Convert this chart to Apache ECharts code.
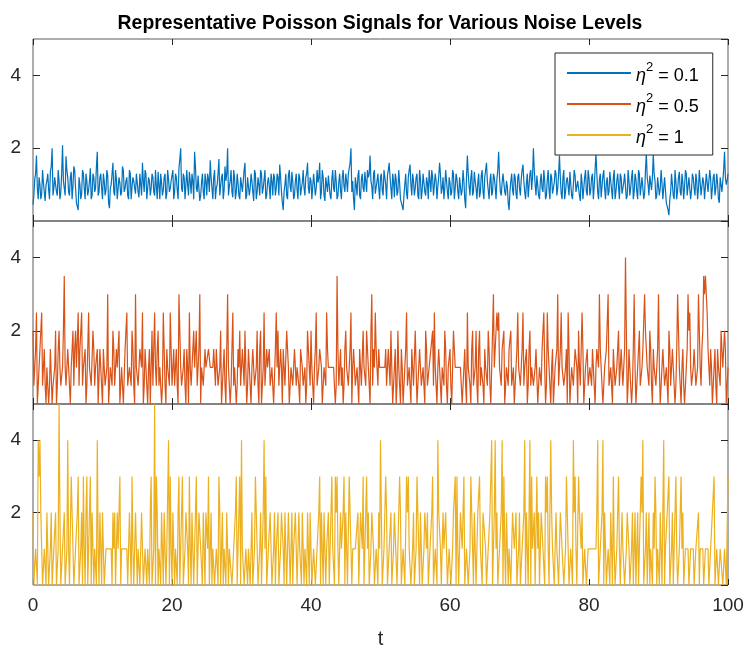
<!DOCTYPE html>
<html>
<head>
<meta charset="utf-8">
<script src="https://cdn.jsdelivr.net/npm/echarts@6/dist/echarts.min.js"></script>
<style>
html,body{margin:0;padding:0;background:#fff;}
#chart{width:747px;height:650px;}
</style>
</head>
<body>
<div id="chart"></div>
<script>
// sampling: "A" readings at t = 0, 0.25, ..., 100 ; "B" readings at t = 0.125, 0.375, ..., 99.875
const dt = 0.125;
const noiseLabels = ['0.1', '0.5', '1'];
const xTicks = [0, 20, 40, 60, 80, 100];
const yTicks = [2, 4];

// eta^2 = 0.1
const sig01A = [
0.45,1.15,1.8,0.6,1.0,0.75,1.05,0.55,1.1,0.85,1.35,2.0,0.9,1.25,0.7,1.1,0.8,2.08,0.9,1.78,
1.2,0.7,1.35,0.95,1.4,0.5,0.3,1.0,0.75,1.3,0.6,1.1,0.85,1.45,0.7,1.2,0.9,1.9,0.8,1.3,
0.6,1.1,0.85,1.25,0.35,1.0,1.6,0.7,1.15,0.55,1.05,0.8,1.4,0.9,1.2,0.6,1.3,0.95,1.1,0.75,
1.25,0.65,1.0,1.6,0.8,1.3,0.55,1.1,0.9,1.2,0.7,0.95,1.35,0.6,1.05,0.85,1.3,0.75,1.15,0.9,
1.1,0.6,1.3,0.85,1.45,2.0,0.8,1.2,0.65,1.0,1.35,0.75,1.1,1.9,0.9,1.25,0.55,1.05,0.8,1.3,
0.7,1.15,1.67,0.9,1.2,0.6,1.0,1.7,0.75,1.3,0.85,1.1,2.0,0.95,1.4,0.65,1.2,0.8,1.05,0.6,
1.15,0.85,1.6,0.7,1.25,0.9,1.1,0.55,1.3,0.8,1.0,1.4,0.75,1.15,0.6,1.05,0.95,1.3,0.7,1.2,
0.9,1.2,1.55,0.8,0.3,1.0,0.7,1.25,0.95,1.35,0.6,1.1,0.85,1.3,0.7,1.05,0.9,1.2,1.6,0.75,
1.1,0.65,1.3,0.9,1.05,1.6,0.8,1.2,0.55,1.0,1.25,0.7,1.15,0.9,1.4,0.6,1.05,0.85,1.2,0.95,
1.3,0.8,1.45,2.0,1.1,0.3,1.0,1.25,0.7,1.15,0.9,1.35,0.8,1.2,1.8,0.95,1.3,0.75,1.1,0.9,
1.2,0.85,1.4,1.0,1.25,1.6,0.9,1.3,0.65,1.15,0.8,1.05,0.55,0.3,1.0,0.75,1.2,1.55,0.7,1.1,
0.9,1.3,0.6,1.15,0.85,1.25,0.7,1.05,1.4,0.8,1.2,0.65,1.1,0.95,1.6,0.75,1.2,0.9,1.35,0.6,
1.05,0.8,1.3,0.9,1.15,0.6,1.25,0.85,1.1,0.35,1.8,0.95,1.2,0.7,1.35,0.9,1.05,0.65,1.25,0.8,
1.2,1.6,0.85,1.1,0.7,1.3,0.95,1.15,1.9,0.8,1.05,1.25,0.7,0.95,0.3,1.1,0.85,1.3,0.75,1.2,
0.9,1.15,1.55,0.8,1.05,0.65,1.3,0.85,2.0,1.0,1.25,0.7,1.1,0.9,1.4,0.6,1.15,0.85,1.3,0.75,
1.05,1.3,0.9,1.8,0.75,1.2,0.6,1.1,0.95,1.35,0.7,1.0,1.25,0.8,1.15,0.55,1.05,0.9,1.4,0.7,
1.2,0.85,1.3,0.95,1.86,0.8,1.15,0.65,1.25,0.9,1.05,0.7,1.35,0.85,1.2,0.6,1.1,0.95,1.3,0.75,
1.05,1.25,0.7,1.1,0.9,1.4,0.8,1.15,0.6,1.3,0.95,1.2,0.75,1.86,1.0,1.25,0.85,1.83,1.1,0.7,
1.2,0.9,1.05,0.55,1.15,0.4,0.16,0.8,1.25,0.6,1.1,0.85,1.35,0.7,1.05,0.95,1.3,0.65,1.15,0.85,
1.2,0.7,1.1,0.9,1.35,0.75,1.05,0.55,1.25,0.85,1.15,0.65,1.3,0.9,1.05,0.5,1.2,0.8,1.9,1.0,1.3
];
const sig01B = [
0.7,1.3,0.9,1.2,0.6,1.4,0.8,1.0,1.3,0.6,1.5,0.7,1.2,0.8,1.4,0.6,1.3,1.1,0.7,1.4,
0.8,1.2,0.6,1.5,0.9,0.5,1.2,0.6,1.4,0.9,1.3,0.7,1.1,0.6,1.3,0.8,1.5,0.7,1.2,0.9,
1.3,0.7,1.4,0.5,0.9,1.3,0.8,1.4,0.6,1.2,0.7,1.5,0.8,1.1,0.7,1.4,0.6,1.2,0.9,1.3,
0.8,1.3,0.7,1.1,1.4,0.6,1.2,0.7,1.3,0.8,1.4,0.6,1.0,1.3,0.7,1.2,0.6,1.4,0.8,1.1,
1.4,0.8,1.2,0.6,1.7,0.9,1.3,0.6,1.4,0.7,1.1,1.3,0.6,1.5,0.8,1.2,0.7,1.3,0.6,1.1,
1.3,0.8,1.2,0.6,1.4,0.9,1.3,0.7,1.2,0.6,1.5,1.3,0.7,1.1,0.8,1.4,0.6,1.3,0.7,1.2,
0.8,1.4,0.6,1.2,0.7,1.3,0.8,1.4,0.6,1.2,0.7,1.3,0.9,1.4,0.7,1.2,0.6,1.1,1.3,0.7,
1.3,0.7,1.2,0.5,0.8,1.3,0.6,1.4,0.8,1.1,0.7,1.3,0.6,1.2,0.9,1.4,0.7,1.3,0.9,1.2,
0.6,1.3,0.7,1.4,1.2,0.6,1.4,0.7,1.2,0.8,1.3,0.6,1.4,0.8,1.1,0.7,1.3,0.6,1.4,0.8,
1.1,1.3,1.6,0.8,0.6,1.2,0.7,1.4,0.6,1.3,0.8,1.1,1.4,1.3,1.1,0.6,1.4,0.8,1.3,0.6,
1.3,0.7,1.2,0.6,1.4,1.2,0.6,1.1,1.3,0.7,1.4,0.6,0.4,0.7,1.3,0.6,1.4,1.0,1.3,0.7,
1.2,0.7,1.4,0.6,1.3,0.8,1.2,0.6,1.1,1.4,0.7,1.3,0.6,1.2,1.3,0.9,0.6,1.4,0.8,1.2,
0.7,1.4,0.6,1.3,0.8,1.2,0.7,1.4,0.6,1.2,1.3,0.7,1.4,0.8,1.1,0.6,1.3,0.8,1.4,0.6,
1.4,1.1,0.6,1.3,0.8,1.2,0.6,1.4,1.2,0.7,1.3,0.8,1.1,0.5,0.8,1.3,0.7,1.2,0.6,1.3,
0.7,1.4,1.1,0.6,1.3,0.7,1.4,1.2,1.4,0.7,1.2,0.6,1.3,0.8,1.1,0.7,1.4,0.6,1.2,0.8,
1.4,0.7,1.3,1.2,0.6,1.4,0.8,1.2,0.7,1.3,0.6,1.4,0.8,1.1,0.7,1.3,0.6,1.2,0.8,1.4,
0.7,1.2,0.6,1.4,1.3,0.6,1.3,0.7,1.4,0.6,1.2,0.8,1.1,0.6,1.4,0.8,1.3,0.6,1.2,0.9,
1.3,0.6,1.4,0.7,1.2,0.6,1.3,0.8,1.4,0.7,1.2,0.6,1.4,1.2,0.7,1.3,1.2,1.3,0.6,1.2,
0.7,1.4,0.6,1.2,0.5,0.3,0.6,1.3,0.7,1.4,0.6,1.2,0.8,1.3,0.6,1.4,0.7,1.2,0.6,1.3,
0.9,1.3,0.6,1.4,0.7,1.2,0.6,1.3,0.8,1.4,0.6,1.2,0.7,1.3,0.6,1.2,0.8,1.4,1.2,1.1
];

// eta^2 = 0.5 (steps of 0.5)
const sig05A = [
2,1,2.5,0.5,1.5,2.5,1,0.5,1,0,1.5,0,0.5,2,0.5,2,0.5,1,3.5,0.5,
1.5,0.5,1,2,1.5,1,2.5,1.5,2.5,1,1.5,0.5,2.5,1,0.5,1.5,1,1.5,0,1,
0,1.5,0.5,3,0.5,1,2,0.5,1.5,1,0,1,0,1.5,2.5,0.5,1,2,0.5,3,
1,0.5,1.5,2.5,0.5,1,0,1.5,1,0.5,2.5,0.5,2,1,0,2.5,0.5,1.5,1,2.5,
0.5,1.5,1,0.5,3,1,0.5,1.5,0,1,2.5,0.5,1.5,1,2,0.5,3,1,0.5,1.5,
1,1.5,1,1,1.5,0.5,1,0.5,2,0.5,1.5,0,3,1,0.5,2.5,1,0,1.5,2,
0.5,1,2,0,1.5,0.5,1,1.5,0.5,2,0,2,0,2.5,0.5,1,1.5,0.5,1,0,
2.5,2,0.5,1,1.5,0.5,2,1,0,1,0.5,1.5,1,0.5,1.5,1,0.5,0,2,1,
2,0.5,1,2.5,0.5,1.5,1,0.5,1,2.5,1,1,1,1,0,3.5,0.5,1.5,1,0.5,
2,1,0.5,2.5,1,1.5,0.5,1,1.5,0.5,2,1,2,1.5,0,3,1.5,2.5,1,1.5,
1,1,1,1.5,0.5,1,2,0,1,0,2,0.5,1.5,0,1,2.5,0.5,1,1.5,0.5,
2,0,1,1.5,0.5,1,2,0.5,1,1.5,2,2.5,0.5,1,1.5,0,1,2,0.5,1,
1.5,0,2,1,1,1,1,0,1,0.5,2.5,1,0,2,0.5,2,0,2,1,0.5,
1.5,1,2,0.5,1,3,1.5,2.5,2.5,1,1.5,2,0.5,1,1.5,2,0.5,0,1,2.5,
1,0.5,2.5,1,1.5,0.5,2,1,0.5,1,1.5,0.5,1,1.5,2.5,0,2.5,1,0,1.5,
0,1,3,0.5,2.5,1,0.5,1.5,2.5,0,1,0.5,1.5,1,2,0.5,2.5,0,1,1.5,
0.5,1,1.5,0.5,1,1.5,3,1,0,1,1.5,3,0.5,1,1.5,0.5,1,2,0.5,1.5,
1,4,0,1.5,1,0.5,3,0,1,2,0.5,1.5,3,2,1,2,0.5,1.5,1,0.5,
3,0,1,1.5,0.5,1,2,0.5,1.5,1,0.5,3,1,0,1.5,0,1,3,2.5,0.5,
1,1.5,0.5,3,1,1.5,3.5,3.5,2.5,1,1.5,0,1,0.5,1.5,1,2,1,2,0,1
];
const sig05B = [
0.5,1.5,0,1,2,0.5,1.5,0,1,0.5,1.5,0.5,1,0,1.5,1,0.5,2,1,0.5,
1,0,1.5,0.5,2,1,0.5,1.5,0.5,1,0,1.5,1,0.5,2,0.5,1,0,1.5,0.5,
1.5,0.5,1,0,1,0.5,1.5,0.5,1,2,0.5,1,0,1.5,0.5,1,0.5,1.5,0,1,
0.5,1.5,1,0,1.5,0.5,1,0,2,0.5,1,1.5,0.5,1,0.5,1.5,0,1,0.5,1.5,
1,0.5,1.5,0,2,0.5,1,0.5,1.5,0,1,0.5,2,1,0.5,1.5,0,1,0.5,1,
1,1.5,1,1,1,1.5,0.5,1,0,1,0.5,1.5,1,0,1.5,0.5,1,0.5,1,0.5,
1.5,0.5,1,0.5,1,0,1.5,0.5,1,0.5,1.5,0,1,0.5,1.5,1,0.5,1,0,1.5,
1,0.5,1.5,0,1,0.5,1.5,0,1,0.5,1.5,0.5,1,0,1.5,0.5,1,0.5,1.5,0.5,
1,0,1.5,0.5,1,1.5,0,1,0.5,1.5,1,1,1,1,0.5,1.5,1,0.5,0,1.5,
1,0.5,1.5,0,1.5,0.5,1,0,1.5,0.5,1,0.5,1.5,0.5,2,0.5,1,1.5,0.5,1,
1,1,1,0.5,1.5,0.5,1,0.5,1.5,0.5,1,0,1,0.5,1.5,0.5,1,0,1.5,0.5,
1,0.5,1.5,0.5,1,0,1.5,0.5,1,1.5,0.5,1,0,1.5,0.5,1,0.5,1.5,0,1,
0.5,1,1.5,1,1,1,1,0.5,1.5,0,1,0.5,1.5,0.5,1,0.5,1.5,0.5,1,0,
1,0.5,1.5,0,2,1,1.5,2,1,0.5,1.5,0,1,0.5,1.5,0.5,1,0,1.5,1,
0.5,1.5,0.5,1,0,1.5,0.5,1,0.5,1.5,0,1,0.5,1.5,1,0.5,1.5,0.5,1,0,
1,1.5,0.5,1.5,1,0.5,1,0,1.5,0.5,1,0.5,1.5,0,1,0.5,1.5,0.5,1,0.5,
1,0.5,1,0,1.5,1,1.5,0.5,0.5,1,1.5,0.5,1,0,1.5,0.5,1,0.5,1.5,0.5,
1.5,2,0.5,1,0,1.5,1,0.5,1.5,0.5,1,1.5,2,1,0.5,1.5,0,1,0.5,1.5,
1,0.5,1.5,0.5,1,0,1.5,0.5,1,0,1.5,2,0.5,1,0.5,0.5,1.5,2,1,0.5,
1.5,0.5,1,2,0.5,2,3,3,1.5,0.5,1,0.5,1.5,0,1,0.5,1.5,1,1.5,0.5
];

// eta^2 = 1 (integer counts)
const sig1A = [
2,0,1,4,4,1,0,1,2,0,1,0,1,2,0,5,0,1,2,0,
4,0,3,2,0,1,3,0,2,3,0,3,1,3,2,0,1,4,0,1,
2,0,1,1,1,1,2,2,0,1,3,1,1,1,1,0,1,3,0,2,
0,1,0,1,0,1,1,0,3,0,5,3,0,1,2,0,2,1,4,3,
0,2,1,0,3,1,3,0,2,1,3,0,2,1,3,0,2,1,2,0,
2,3,1,0,1,0,1,3,0,2,1,0,2,1,1,0,1,3,1,3,
4,1,0,1,1,0,2,0,3,2,0,2,0,4,3,0,1,2,0,2,
1,2,0,2,1,2,0,2,0,2,1,2,0,2,1,2,0,1,2,0,
2,0,1,0,1,3,2,0,2,1,2,0,3,1,3,3,0,2,1,3,
2,0,3,1,1,1,1,2,0,2,3,0,3,2,0,2,1,0,1,2,
4,0,1,3,0,1,2,0,2,2,1,3,0,1,0,3,3,1,0,2,
0,3,1,2,0,1,2,2,0,1,3,0,1,4,2,0,2,1,2,0,
1,0,2,3,3,0,2,1,3,0,1,0,3,1,2,0,2,3,1,2,
2,0,1,2,4,1,4,2,0,1,4,3,0,2,1,0,2,1,2,0,
2,0,1,4,2,0,4,3,1,0,3,2,0,2,1,3,3,0,4,1,
0,2,1,0,2,1,0,3,1,0,1,4,3,0,3,2,2,0,1,0,
1,1,1,1,1,4,0,1,4,2,0,1,0,1,3,0,1,3,0,2,
1,0,2,1,0,2,1,0,2,1,3,4,0,2,1,0,1,2,3,0,
1,2,0,4,1,2,3,0,2,1,3,0,1,3,2,0,1,1,0,1,
1,0,1,2,1,1,0,1,1,0,1,2,3,0,1,0,1,0,1,0,3
];
const sig1B = [
0,1,0,3,2,0,1,0,1,0,2,0,1,0,1,2,0,1,0,1,
1,0,2,0,1,2,0,1,0,1,2,0,1,0,2,1,0,1,2,0,
1,0,1,1,1,0,1,0,2,1,0,1,1,1,0,2,0,1,0,1,
1,0,2,0,1,0,1,2,0,1,0,2,1,0,1,2,0,1,0,1,
2,0,1,2,0,1,0,1,2,0,1,2,0,1,0,2,1,0,1,2,
1,0,2,1,0,1,0,2,1,0,1,2,0,1,0,1,2,0,1,0,
1,0,1,0,1,1,0,1,2,0,1,0,2,1,0,1,2,0,1,0,
1,0,1,2,0,1,0,2,1,0,1,2,0,1,0,2,1,0,1,2,
0,1,0,1,2,0,1,2,0,1,0,2,1,0,2,1,0,1,2,0,
1,0,2,0,1,1,1,0,2,1,0,2,1,0,1,2,0,1,0,1,
2,0,1,2,0,1,0,1,2,0,1,2,0,1,0,2,1,0,1,0,
1,2,0,1,0,2,1,0,1,2,0,1,0,2,1,0,1,2,0,1,
0,1,2,0,1,0,2,1,0,1,0,1,2,0,1,0,2,1,0,2,
1,0,1,2,0,2,1,0,1,2,0,1,2,0,1,0,2,1,0,1,
0,1,2,0,1,2,0,1,2,0,1,0,2,1,0,2,1,0,2,1,
0,1,0,2,1,0,1,2,0,1,0,2,1,0,2,1,0,1,0,1,
1,1,1,1,2,0,1,2,0,1,0,1,2,0,1,0,2,1,0,1,
0,1,2,0,1,0,2,1,0,1,2,0,1,0,2,1,0,1,2,1,
0,1,2,0,1,2,0,1,0,2,1,0,2,1,0,1,1,0,1,1,
0,1,1,0,1,1,0,1,1,0,1,2,0,1,0,1,1,0,1,0
];

// merge the two reading phases into one time-ordered series
function merge(a, b) {
  const out = [];
  for (let i = 0; i < a.length; i++) {
    out.push(a[i]);
    if (i < b.length) out.push(b[i]);
  }
  return out;
}
const signals = [merge(sig01A, sig01B), merge(sig05A, sig05B), merge(sig1A, sig1B)];
const colors = ['#0072BD', '#D95319', '#EDB120'];
const FONT = '"Liberation Sans", Arial, Helvetica, sans-serif';
const AX = '#262626';

const grids = [
  {left: 33, right: 19, top: 39, height: 182},
  {left: 33, right: 19, top: 221, height: 183},
  {left: 33, right: 19, top: 404, height: 183}
].map(g => Object.assign(g, {show: true, borderColor: '#5a5a5a', borderWidth: 1, backgroundColor: 'transparent'}));

const xAxes = [], yAxes = [];
for (let g = 0; g < 3; g++) {
  ['bottom', 'top'].forEach(pos => {
    xAxes.push({
      gridIndex: g, type: 'value', position: pos, min: 0, max: 100, interval: 20,
      axisLine: {show: false, onZero: false},
      axisTick: {show: true, inside: true, length: 6, lineStyle: {color: AX}},
      axisLabel: {show: g === 2 && pos === 'bottom', fontSize: 19, color: AX, fontFamily: FONT, margin: 11,
        formatter: v => xTicks.indexOf(v) >= 0 ? String(v) : ''},
      splitLine: {show: false},
      name: (g === 2 && pos === 'bottom') ? 't' : '',
      nameLocation: 'middle', nameGap: 44,
      nameTextStyle: {fontSize: 20, color: AX, fontFamily: FONT}
    });
  });
  ['left', 'right'].forEach(pos => {
    yAxes.push({
      gridIndex: g, type: 'value', position: pos, min: 0, max: 5, interval: 2,
      axisLine: {show: false, onZero: false},
      axisTick: {show: true, inside: true, length: 7, lineStyle: {color: AX}},
      axisLabel: {show: pos === 'left', fontSize: 19, color: AX, fontFamily: FONT, margin: 12,
        showMinLabel: false, showMaxLabel: false,
        formatter: v => yTicks.indexOf(v) >= 0 ? String(v) : ''},
      splitLine: {show: false}
    });
  });
}

const series = signals.map((sig, k) => ({
  name: noiseLabels[k],
  type: 'line',
  xAxisIndex: k * 2,
  yAxisIndex: k * 2,
  data: sig.map((v, i) => [i * dt, v]),
  showSymbol: false,
  symbol: 'none',
  lineStyle: {width: 1.2, color: colors[k]},
  itemStyle: {color: colors[k]},
  color: colors[k],
  animation: false,
  z: 3
}));

const chart = echarts.init(document.getElementById('chart'), null, {renderer: 'canvas'});
chart.setOption({
  animation: false,
  backgroundColor: '#ffffff',
  title: {
    text: 'Representative Poisson Signals for Various Noise Levels',
    left: 375, top: 9, textAlign: 'center',
    textStyle: {fontSize: 19.4, fontWeight: 'bold', color: '#000', fontFamily: FONT}
  },
  legend: {
    data: noiseLabels,
    orient: 'vertical',
    left: 555, top: 53,
    padding: [8, 14, 8, 12],
    itemGap: 7,
    itemWidth: 64, itemHeight: 2,
    icon: 'rect',
    backgroundColor: '#fff',
    borderColor: AX, borderWidth: 1, borderRadius: 0,
    formatter: name => '{e|η}{s|2}{n| = ' + name + '}',
    textStyle: {
      fontFamily: FONT, fontSize: 18, color: '#000',
      rich: {
        e: {fontStyle: 'italic', fontSize: 18, fontFamily: FONT, color: '#000', lineHeight: 24, verticalAlign: 'bottom'},
        s: {fontSize: 13, fontFamily: FONT, color: '#000', lineHeight: 24, verticalAlign: 'top'},
        n: {fontSize: 18, fontFamily: FONT, color: '#000', lineHeight: 24, verticalAlign: 'bottom'}
      }
    },
    selectedMode: false
  },
  grid: grids,
  xAxis: xAxes,
  yAxis: yAxes,
  series: series
});
</script>
</body>
</html>
